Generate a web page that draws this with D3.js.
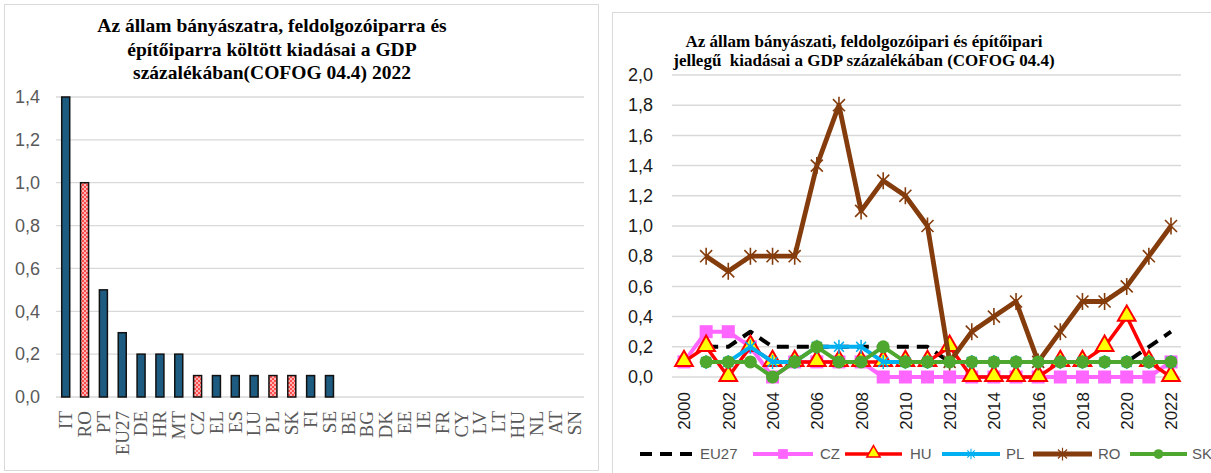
<!DOCTYPE html>
<html>
<head>
<meta charset="utf-8">
<script src="https://cdn.jsdelivr.net/npm/d3@7/dist/d3.min.js"></script>
<style>
  html, body { margin: 0; padding: 0; background: #fff; }
  svg { display: block; }
</style>
</head>
<body>
<svg id="chart" width="1211" height="473"></svg>
<script>
// ---------- DATA ----------
const barCategories = ["IT","RO","PT","EU27","DE","HR","MT","CZ","EL","ES","LU","PL","SK","FI","SE","BE","BG","DK","EE","IE","FR","CY","LV","LT","HU","NL","AT","SN"];
const barValues = [1.4,1.0,0.5,0.3,0.2,0.2,0.2,0.1,0.1,0.1,0.1,0.1,0.1,0.1,0.1,0,0,0,0,0,0,0,0,0,0,0,0,0];
const highlighted = ["RO","CZ","PL","SK"];
const barTicks = [0,0.2,0.4,0.6,0.8,1.0,1.2,1.4];

const years = [2000,2001,2002,2003,2004,2005,2006,2007,2008,2009,2010,2011,2012,2013,2014,2015,2016,2017,2018,2019,2020,2021,2022];
const yearTicks = [2000,2002,2004,2006,2008,2010,2012,2014,2016,2018,2020,2022];
const lineTicks = [0,0.2,0.4,0.6,0.8,1.0,1.2,1.4,1.6,1.8,2.0];

const eu27 = [null,0.2,0.2,0.3,0.2,0.2,0.2,0.2,0.2,0.2,0.2,0.2,0.1,0.1,0.1,0.1,0.1,0.1,0.1,0.1,0.1,0.2,0.3];
const cz   = [0.1,0.3,0.3,0.2,0.0,0.1,0.1,0.1,0.1,0.0,0.0,0.0,0.0,0.0,0.0,0.0,0.0,0.0,0.0,0.0,0.0,0.0,0.1];
const hu   = [0.1,0.2,0.0,0.2,0.1,0.1,0.1,0.1,0.1,0.1,0.1,0.1,0.2,0.0,0.0,0.0,0.0,0.1,0.1,0.2,0.4,0.1,0.0];
const pl   = [null,0.1,0.1,0.2,0.1,0.1,0.2,0.2,0.2,0.1,0.1,0.1,0.1,0.1,0.1,0.1,0.1,0.1,0.1,0.1,0.1,0.1,0.1];
const ro   = [null,0.8,0.7,0.8,0.8,0.8,1.4,1.8,1.1,1.3,1.2,1.0,0.1,0.3,0.4,0.5,0.1,0.3,0.5,0.5,0.6,0.8,1.0];
const sk   = [null,0.1,0.1,0.1,0.0,0.1,0.2,0.1,0.1,0.2,0.1,0.1,0.1,0.1,0.1,0.1,0.1,0.1,0.1,0.1,0.1,0.1,0.1];

const seriesNames = ["EU27","CZ","HU","PL","RO","SK"];

const fmt = v => d3.format(".1f")(v).replace(".", ",");
const svg = d3.select("#chart");

// ---------- pattern ----------
const defs = svg.append("defs");
const pat = defs.append("pattern").attr("id","pinkPat").attr("patternUnits","userSpaceOnUse")
  .attr("width",4).attr("height",4);
pat.append("rect").attr("width",4).attr("height",4).attr("fill","#ff4d4d");
pat.append("rect").attr("x",0).attr("y",0).attr("width",2).attr("height",2).attr("fill","#ffb3b3");
pat.append("rect").attr("x",2).attr("y",2).attr("width",2).attr("height",2).attr("fill","#ffb3b3");

// ---------- LEFT PANEL ----------
svg.append("rect").attr("x",4.5).attr("y",4.5).attr("width",594).attr("height",466)
  .attr("fill","#fff").attr("stroke","#d9d9d9").attr("stroke-width",1);

const lt = svg.append("text").attr("text-anchor","middle")
  .attr("font-family","'Liberation Serif', 'Times New Roman', serif")
  .attr("font-weight","bold").attr("font-size","19.5px").attr("fill","#000");
["Az állam bányászatra, feldolgozóiparra és","építőiparra költött kiadásai a GDP","százalékában(COFOG 04.4) 2022"]
  .forEach((s,i)=> lt.append("tspan").attr("x",272).attr("y",32 + i*23.5).text(s));

const xb = d3.scaleBand().domain(barCategories).range([56.3, 583.8]);
const yb = d3.scaleLinear().domain([0,1.4]).range([397, 97]);

const gL = svg.append("g");
gL.selectAll("line.grid").data(barTicks).join("line")
  .attr("x1",56).attr("x2",584)
  .attr("y1",d=>yb(d)).attr("y2",d=>yb(d))
  .attr("stroke","#d9d9d9").attr("stroke-width",1.3);

const yAxisL = d3.axisLeft(yb).tickValues(barTicks).tickFormat(fmt).tickSize(0).tickPadding(0);
gL.append("g").attr("transform","translate(40,0)").call(yAxisL)
  .call(g=>g.select(".domain").remove())
  .call(g=>g.selectAll("text").attr("font-family","'Liberation Sans', Arial, sans-serif")
    .attr("font-size","18px").attr("fill","#595959"));

const bw = 8;
gL.selectAll("rect.bar").data(barCategories.map((c,i)=>({c, v: barValues[i]})).filter(d=>d.v>0)).join("rect")
  .attr("x", d=> xb(d.c) + xb.bandwidth()/2 - bw/2)
  .attr("y", d=> yb(d.v))
  .attr("width", bw)
  .attr("height", d=> yb(0) - yb(d.v))
  .attr("fill", d=> highlighted.includes(d.c) ? "url(#pinkPat)" : "#1d5b80")
  .attr("stroke","#111").attr("stroke-width",1.5);

const xAxisL = d3.axisBottom(xb).tickSize(0).tickPadding(0);
gL.append("g").attr("transform","translate(0,397)").call(xAxisL)
  .call(g=>g.select(".domain").remove())
  .call(g=>g.selectAll("text")
    .attr("font-family","'Liberation Serif', 'Times New Roman', serif")
    .attr("font-size","19px").attr("fill","#595959")
    .attr("text-anchor","end").attr("dy","0.33em").attr("y",0).attr("x",0)
    .attr("transform","translate(0,14) rotate(-90)"));

// ---------- RIGHT PANEL ----------
svg.append("rect").attr("x",612.5).attr("y",12.5).attr("width",610).attr("height",480)
  .attr("fill","#fff").attr("stroke","#d9d9d9").attr("stroke-width",1);

const rt = svg.append("text").attr("text-anchor","middle")
  .attr("font-family","'Liberation Serif', 'Times New Roman', serif")
  .attr("font-weight","bold").attr("font-size","17px").attr("fill","#000");
["Az állam bányászati, feldolgozóipari és építőipari","jellegű  kiadásai a GDP százalékában (COFOG 04.4)"]
  .forEach((s,i)=> rt.append("tspan").attr("x",864).attr("y",47 + i*19).attr("xml:space","preserve").text(s));

const xr = d3.scalePoint().domain(years).range([684, 1171]);
const yr = d3.scaleLinear().domain([0,2]).range([377, 75]);

const gR = svg.append("g");
gR.selectAll("line.grid").data(lineTicks).join("line")
  .attr("x1",672).attr("x2",1181)
  .attr("y1",d=>yr(d)).attr("y2",d=>yr(d))
  .attr("stroke","#d9d9d9").attr("stroke-width",1.5);

const yAxisR = d3.axisLeft(yr).tickValues(lineTicks).tickFormat(fmt).tickSize(0).tickPadding(0);
gR.append("g").attr("transform","translate(653,0)").call(yAxisR)
  .call(g=>g.select(".domain").remove())
  .call(g=>g.selectAll("text").attr("font-family","'Liberation Sans', Arial, sans-serif")
    .attr("font-size","18px").attr("fill","#1a1a1a"));

const xAxisR = d3.axisBottom(xr).tickValues(yearTicks).tickSize(0).tickPadding(0);
gR.append("g").attr("transform","translate(0,377)").call(xAxisR)
  .call(g=>g.select(".domain").remove())
  .call(g=>g.selectAll("text")
    .attr("font-family","'Liberation Sans', Arial, sans-serif")
    .attr("font-size","17px").attr("fill","#1a1a1a")
    .attr("text-anchor","end").attr("dy","0.35em").attr("y",0).attr("x",0)
    .attr("transform","translate(0,15) rotate(-90)"));

// marker generators
function starPath(r){
  const d = r*0.7071;
  return `M${-d},${-d}L${d},${d}M${-d},${d}L${d},${-d}M0,${-r}L0,${r}`;
}
const markers = {
  EU27: null,
  CZ: (g)=> g.append("rect").attr("x",-6.5).attr("y",-6.5).attr("width",13).attr("height",13).attr("fill","#ff66ff"),
  HU: (g)=> g.append("path").attr("d", d3.symbol().type(d3.symbolTriangle).size(135)())
            .attr("transform","translate(0,-1)")
            .attr("fill","#ffff00").attr("stroke","#ff0000").attr("stroke-width",2),
  PL: (g)=> g.append("path").attr("d", starPath(7)).attr("stroke","#00b0f0").attr("stroke-width",1.5).attr("fill","none"),
  RO: (g)=> g.append("path").attr("d", starPath(8.5)).attr("stroke","#843c0c").attr("stroke-width",1.6).attr("fill","none"),
  SK: (g)=> g.append("circle").attr("r",6.5).attr("fill","#4ea72e")
};
const seriesStyle = {
  EU27: {data: eu27, color:"#000000", width:4, dash:"12,8"},
  CZ:   {data: cz,   color:"#ff66ff", width:4},
  HU:   {data: hu,   color:"#ff0000", width:3.5},
  PL:   {data: pl,   color:"#00b0f0", width:4},
  RO:   {data: ro,   color:"#843c0c", width:4.8},
  SK:   {data: sk,   color:"#4ea72e", width:4}
};
const drawOrder = ["CZ","EU27","HU","PL","RO","SK"];

const line = d3.line().defined(d=>d.v!==null).x(d=>xr(d.y)).y(d=>yr(d.v));
drawOrder.forEach(name=>{
  const s = seriesStyle[name];
  const pts = years.map((y,i)=>({y, v: s.data[i]}));
  const g = gR.append("g");
  g.append("path").datum(pts).attr("d", line)
    .attr("fill","none").attr("stroke", s.color).attr("stroke-width", s.width)
    .attr("stroke-linejoin","round")
    .attr("stroke-dasharray", s.dash || null);
  if (markers[name]) {
    pts.filter(d=>d.v!==null).forEach(d=>{
      const mg = g.append("g").attr("transform",`translate(${xr(d.y)},${yr(d.v)})`);
      markers[name](mg);
    });
  }
});

// legend
const legendItems = [
  {name:"EU27", x1:640, x2:692, tx:700},
  {name:"CZ",   x1:753, x2:813, tx:820},
  {name:"HU",   x1:845, x2:902, tx:910},
  {name:"PL",   x1:942, x2:1000, tx:1006},
  {name:"RO",   x1:1033, x2:1092, tx:1098},
  {name:"SK",   x1:1130, x2:1187, tx:1192}
];
const lg = svg.append("g");
legendItems.forEach(it=>{
  const s = seriesStyle[it.name];
  const ly = 454;
  lg.append("line").attr("x1",it.x1).attr("x2",it.x2).attr("y1",ly).attr("y2",ly)
    .attr("stroke",s.color).attr("stroke-width",s.width)
    .attr("stroke-dasharray", s.dash || null);
  if (markers[it.name]) {
    const mg = lg.append("g").attr("transform",`translate(${(it.x1+it.x2)/2},${ly}) scale(0.75)`);
    markers[it.name](mg);
  }
  lg.append("text").attr("x",it.tx).attr("y",ly).attr("dy","0.35em")
    .attr("font-family","'Liberation Sans', Arial, sans-serif")
    .attr("font-size","15px").attr("fill","#595959").text(it.name);
});
</script>
</body>
</html>
